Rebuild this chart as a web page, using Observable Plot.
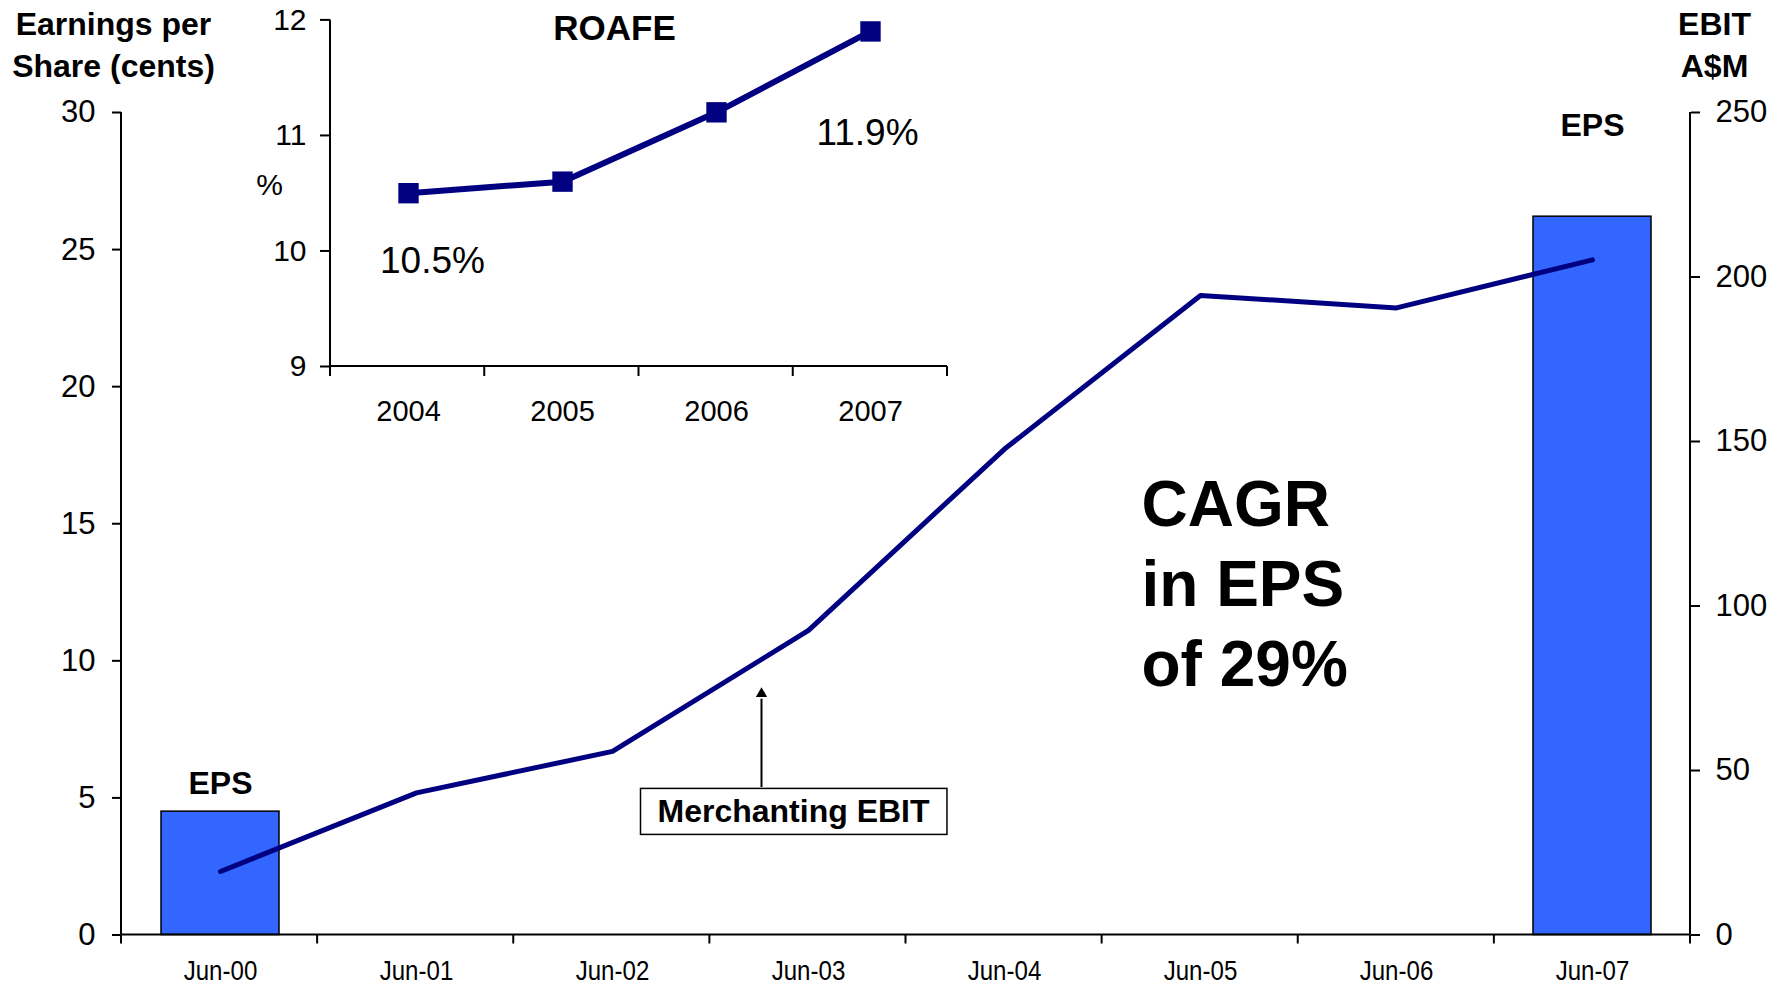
<!DOCTYPE html>
<html><head><meta charset="utf-8">
<script src="https://cdn.jsdelivr.net/npm/d3@7"></script>
<script src="https://cdn.jsdelivr.net/npm/@observablehq/plot@0.6"></script>
<style>
html,body{margin:0;padding:0;background:#fff;overflow:hidden;}
#wrap{position:relative;width:1789px;height:986px;}
#wrap svg{position:absolute;left:0;top:0;}
</style></head><body><div id="wrap"></div>
<script>
// ---- data ----
const periods = ["Jun-00","Jun-01","Jun-02","Jun-03","Jun-04","Jun-05","Jun-06","Jun-07"];
const epsPeriods = ["Jun-00","Jun-07"];
const epsValues = [4.5, 26.2];
const ebitValues = [19.3, 43.2, 55.8, 92.6, 147.7, 194.4, 190.6, 205.2];
const roafeYears = ["2004","2005","2006","2007"];
const roafeValues = [10.5, 10.6, 11.2, 11.9];
const epsTicks = [0,5,10,15,20,25,30];
const ebitTicks = [0,50,100,150,200,250];
const roafeTicks = [9,10,11,12];

const k = 30/250; // EBIT (A$M) -> EPS axis units
const epsData = epsPeriods.map((p,i)=>({period:p, eps:epsValues[i]}));
const ebitData = periods.map((p,i)=>({period:p, ebit:ebitValues[i]}));
const roafeData = roafeYears.map((y,i)=>({year:y, value:roafeValues[i]}));

const FONT = "'Liberation Sans', Arial, Helvetica, sans-serif";
const NAVY = "#000080";

function decorate(plot, tickLen, rightAxis) {
  const xs = plot.scale("x"), ys = plot.scale("y");
  const [r0, r1] = xs.range; const n = xs.domain.length;
  const yb = ys.range[0], yt = ys.range[1];
  const g = d3.select(plot).append("g").attr("stroke","#000").attr("stroke-width",2).attr("fill","none");
  g.append("line").attr("x1",r0).attr("x2",r0).attr("y1",yt).attr("y2",yb);
  if (rightAxis) g.append("line").attr("x1",r1).attr("x2",r1).attr("y1",yt).attr("y2",yb);
  g.append("line").attr("x1",r0).attr("x2",r1).attr("y1",yb).attr("y2",yb);
  for (let i = 0; i <= n; i++) {
    const x = r0 + i*(r1-r0)/n;
    g.append("line").attr("x1",x).attr("x2",x).attr("y1",yb).attr("y2",yb+tickLen);
  }
}

const main = Plot.plot({
  width: 1789, height: 986,
  marginLeft: 121, marginRight: 99, marginTop: 112, marginBottom: 51.5,
  style: {fontFamily: FONT, fontSize: "29px", background: "white", color: "#000"},
  x: {type: "band", domain: periods, paddingInner: 0.4, paddingOuter: 0.2},
  y: {domain: [0, 30]},
  marks: [
    Plot.axisY({ticks: epsTicks, tickSize: 9, tickPadding: 17, strokeWidth: 2, fontSize: 31, label: null}),
    Plot.axisY({anchor: "right", ticks: ebitTicks.map(v => v*k), tickFormat: d => String(Math.round(d/k)),
      tickSize: 9, tickPadding: 16, strokeWidth: 2, fontSize: 31, label: null}),
    Plot.axisX({tickSize: 0, tickPadding: 25, fontSize: 28, label: null}),
    Plot.barY(epsData, {x: "period", y: "eps", fill: "#3366FF", stroke: "#000", strokeWidth: 1.5}),
    Plot.lineY(ebitData, {x: "period", y: d => d.ebit*k, stroke: NAVY, strokeWidth: 5}),
    Plot.text(epsData.slice(0,1), {x: "period", y: d => d.eps + 1, text: () => "EPS", fontWeight: "bold", fontSize: 32}),
    Plot.text(epsData.slice(1), {x: "period", y: 29.5, text: () => "EPS", fontWeight: "bold", fontSize: 32}),
    Plot.text(["Earnings per\nShare (cents)"], {frameAnchor: "top-left", textAnchor: "middle", lineAnchor: "middle", dx: -8, dy: -70, fontWeight: "bold", fontSize: 32, lineHeight: 1.31}),
    Plot.text(["EBIT\nA$M"], {frameAnchor: "top-right", textAnchor: "middle", lineAnchor: "middle", dx: 24, dy: -70, fontWeight: "bold", fontSize: 32, lineHeight: 1.31}),
    Plot.text(["CAGR\nin EPS\nof 29%"], {frameAnchor: "left", dx: 1020, dy: 57, textAnchor: "start", lineAnchor: "middle", fontWeight: "bold", fontSize: 64, lineHeight: 1.25}),
    Plot.ruleX(["Jun-03"], {x: d => d, y1: 5.38, y2: 8.6, dx: -47, stroke: "#000", strokeWidth: 2}),
    Plot.dot(["Jun-03"], {x: d => d, y: 8.8, dx: -47, symbol: "triangle", r: 4.2, fill: "#000", stroke: "none"}),
    Plot.text(["Merchanting EBIT"], {x: () => "Jun-03", y: 4.48, dx: -15, fontWeight: "bold", fontSize: 32})
  ]
});
decorate(main, 9, true);

const inset = Plot.plot({
  width: 1000, height: 440,
  marginLeft: 330, marginRight: 53, marginTop: 19.4, marginBottom: 74,
  style: {fontFamily: FONT, fontSize: "29px", background: "transparent", color: "#000"},
  x: {type: "band", domain: roafeYears, padding: 0},
  y: {domain: [9, 12]},
  marks: [
    Plot.axisY({ticks: roafeTicks, tickFormat: d => String(d), tickSize: 10, tickPadding: 14, strokeWidth: 2, fontSize: 30, label: null}),
    Plot.axisX({tickSize: 0, tickPadding: 34, fontSize: 29, label: null}),
    Plot.lineY(roafeData, {x: "year", y: "value", stroke: NAVY, strokeWidth: 6}),
    Plot.dot(roafeData, {x: "year", y: "value", symbol: "square", r: 11.5, fill: NAVY, stroke: "none"}),
    Plot.text(roafeData.slice(0,1), {x: "year", y: "value", dx: 24, dy: 68, text: d => d.value.toFixed(1) + "%", fontSize: 37}),
    Plot.text(roafeData.slice(-1), {x: "year", y: "value", dx: -3, dy: 102, text: d => d.value.toFixed(1) + "%", fontSize: 37}),
    Plot.text(["ROAFE"], {frameAnchor: "top", lineAnchor: "middle", textAnchor: "middle", dx: -24.5, dy: 9, fontWeight: "bold", fontSize: 35}),
    Plot.text(["%"], {frameAnchor: "left", textAnchor: "middle", dx: -61, dy: -8, fontSize: 30})
  ]
});
decorate(inset, 10, false);

const wrap = document.getElementById("wrap");
wrap.appendChild(main);
wrap.appendChild(inset);

// condensed x-axis labels (narrow face in the original)
d3.select(main).selectAll('g[aria-label="x-axis tick label"] text').each(function() {
  const len = this.getComputedTextLength();
  this.setAttribute("textLength", (len * 0.86).toFixed(1));
  this.setAttribute("lengthAdjust", "spacingAndGlyphs");
});

// white box behind the "Merchanting EBIT" label
d3.select(main).selectAll("text").filter(function() { return this.textContent === "Merchanting EBIT"; }).each(function() {
  const bb = this.getBBox();
  const r = d3.select(this.parentNode).insert("rect", () => this)
    .attr("x", bb.x - 17).attr("y", bb.y + bb.height/2 - 23)
    .attr("width", bb.width + 34).attr("height", 46)
    .attr("fill", "#fff").attr("stroke", "#000").attr("stroke-width", 1.5);
  const tf = this.getAttribute("transform");
  if (tf) r.attr("transform", tf);
});
</script></body></html>
